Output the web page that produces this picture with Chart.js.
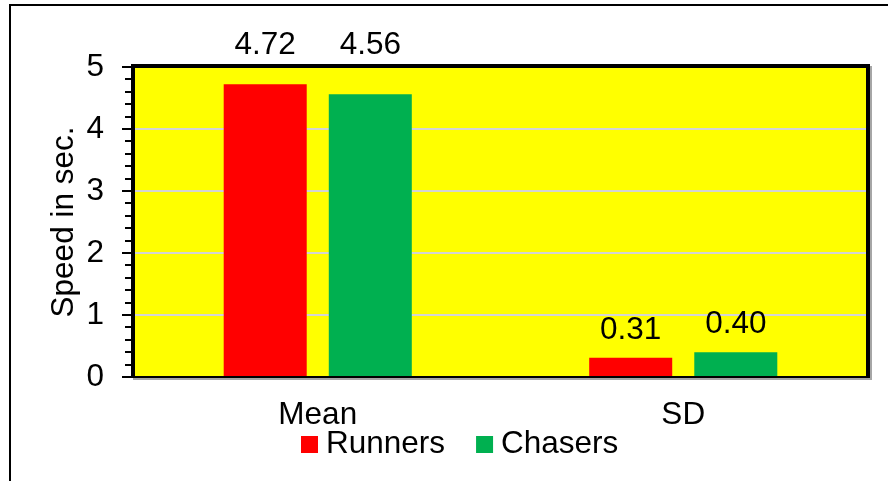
<!DOCTYPE html>
<html>
<head>
<meta charset="utf-8">
<script src="https://cdn.jsdelivr.net/npm/chart.js@4"></script>
<style>
  html, body { margin: 0; padding: 0; background: #fff; }
  #wrap { position: relative; width: 888px; height: 481px; overflow: hidden; }
  #frame { position: absolute; left: 9px; top: 4px; width: 900px; height: 500px;
           border-left: 2px solid #000; border-top: 2px solid #000; }
  canvas { position: absolute; left: 0; top: 0; }
</style>
</head>
<body>
<div id="wrap">
  <div id="frame"></div>
  <canvas id="c" width="888" height="481"></canvas>
</div>
<script>
// Speed (seconds) of runners and chasers
const categories = ['Mean', 'SD'];
const runners = [4.72, 0.31];
const chasers = [4.56, 0.40];
const seriesNames = ['Runners', 'Chasers'];
const seriesColors = ['#ff0000', '#00b050'];
const axisTitle = 'Speed in sec.';

const FONT = '"Liberation Sans", Arial, sans-serif';
const FS = 31.5;
Chart.defaults.font.family = FONT;
Chart.defaults.font.size = FS;
Chart.defaults.color = '#000';

// Yellow plot background, thick black frame with grey shadow, y tick marks
const plotFrame = {
  id: 'plotFrame',
  beforeDraw(chart) {
    const { ctx, chartArea: a } = chart;
    ctx.save();
    ctx.fillStyle = '#ffff00';
    ctx.fillRect(a.left, a.top, a.right - a.left, a.bottom - a.top);
    ctx.restore();
  },
  afterDatasetsDraw(chart) {
    const { ctx, chartArea: a, scales } = chart;
    const L = a.left, T = a.top, R = a.right, B = a.bottom;
    ctx.save();
    // shadow
    ctx.fillStyle = '#a6a6a6';
    ctx.fillRect(R + 4, T - 1, 2, B - T + 3);
    ctx.fillRect(L - 2, B + 1, R - L + 8, 2);
    // frame
    ctx.fillStyle = '#000';
    ctx.fillRect(L - 4, T - 3, 4, B - T + 4);
    ctx.fillRect(L - 4, T - 3, R - L + 8, 4);
    ctx.fillRect(R, T - 3, 4, B - T + 4);
    ctx.fillRect(L - 4, B - 1, R - L + 8, 2);
    // major and minor tick marks on the value axis
    const y = scales.y;
    for (let i = 0; i <= 25; i++) {
      const v = y.min + i * 0.2;
      const py = Math.round(y.getPixelForValue(v));
      const len = (i % 5 === 0) ? 9 : 6;
      ctx.fillRect(L - 4 - len, py - 1, len, 2);
    }
    ctx.restore();
  }
};

// Value labels above each bar; labels that would hit the frame sit above it
const valueLabels = {
  id: 'valueLabels',
  afterDatasetsDraw(chart) {
    const { ctx, chartArea: a } = chart;
    ctx.save();
    ctx.font = FS + 'px ' + FONT;
    ctx.fillStyle = '#000';
    ctx.textAlign = 'center';
    ctx.textBaseline = 'alphabetic';
    chart.data.datasets.forEach((ds, di) => {
      chart.getDatasetMeta(di).data.forEach((bar, i) => {
        let yb = bar.y - 19;
        if (yb - 24 < a.top) yb = a.top - 13;
        ctx.fillText(ds.data[i].toFixed(2), bar.x, yb);
      });
    });
    ctx.restore();
  }
};

// Legend row under the category labels
const legendRow = {
  id: 'legendRow',
  afterDraw(chart) {
    const { ctx } = chart;
    ctx.save();
    ctx.font = FS + 'px ' + FONT;
    ctx.textBaseline = 'alphabetic';
    ctx.textAlign = 'left';
    let x = 301;
    chart.data.datasets.forEach((ds) => {
      ctx.fillStyle = ds.backgroundColor;
      ctx.fillRect(x, 436, 17, 17);
      x += 17 + 8;
      ctx.fillStyle = '#000';
      ctx.fillText(ds.label, x, 453);
      x += ctx.measureText(ds.label).width + 31;
    });
    ctx.restore();
  }
};

new Chart(document.getElementById('c'), {
  type: 'bar',
  data: {
    labels: categories,
    datasets: [
      { label: seriesNames[0], data: runners, backgroundColor: seriesColors[0] },
      { label: seriesNames[1], data: chasers, backgroundColor: seriesColors[1] }
    ]
  },
  options: {
    responsive: false,
    animation: false,
    devicePixelRatio: 1,
    categoryPercentage: 0.575,
    barPercentage: 0.79,
    layout: { padding: { top: 67, right: 22, left: 0, bottom: 0 } },
    plugins: {
      legend: { display: false },
      tooltip: { enabled: false },
      title: { display: false }
    },
    scales: {
      x: {
        grid: { display: false, drawTicks: false },
        border: { display: false },
        ticks: { padding: 19, font: { size: FS } },
        afterFit(s) { s.height = 104; }
      },
      y: {
        min: 0,
        max: 5,
        ticks: { stepSize: 1, padding: 31, font: { size: FS } },
        grid: { color: '#d4d4d4', lineWidth: 2, drawTicks: false },
        border: { display: false },
        title: { display: true, text: axisTitle, font: { size: FS }, padding: { top: 45, bottom: 0 } },
        afterFit(s) { s.width = 135; }
      }
    }
  },
  plugins: [plotFrame, valueLabels, legendRow]
});
</script>
</body>
</html>
